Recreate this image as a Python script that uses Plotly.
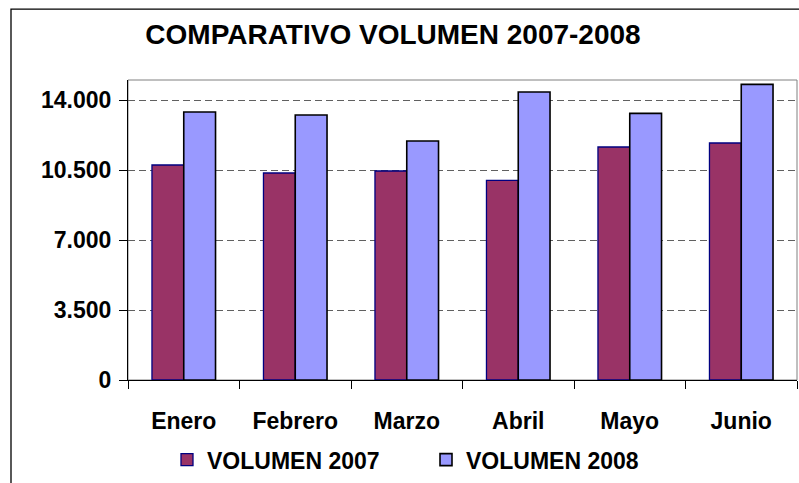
import plotly.graph_objects as go

meses = ["Enero", "Febrero", "Marzo", "Abril", "Mayo", "Junio"]
vol_2007 = [10750, 10350, 10450, 9980, 11650, 11850]
vol_2008 = [13400, 13250, 11950, 14400, 13330, 14780]
y_ticks = [0, 3500, 7000, 10500, 14000]
y_tick_labels = ["0", "3.500", "7.000", "10.500", "14.000"]

FONT = "Liberation Sans"

fig = go.Figure()
fig.add_trace(go.Bar(
    x=meses, y=vol_2007, name="VOLUMEN 2007",
    marker=dict(color="#993366", line=dict(color="#000080", width=1.3)),
))
fig.add_trace(go.Bar(
    x=meses, y=vol_2008, name="VOLUMEN 2008",
    marker=dict(color="#9999FF", line=dict(color="#000000", width=1.6)),
))

W, H = 799, 483
L, R, T, B = 128, 2, 80, 98
pw, ph = W - L - R, H - T - B

def px_to_paper_x(px):
    return (px - L) / pw

def px_to_paper_y(py):
    return (H - B - py) / ph

fig.update_layout(
    width=W, height=H,
    margin=dict(l=L, r=R, t=T, b=B, pad=0),
    paper_bgcolor="white", plot_bgcolor="white",
    barmode="group", bargap=0.43, bargroupgap=0,
    font=dict(family=FONT, color="black", size=23, weight="bold"),
    title=dict(
        text="COMPARATIVO VOLUMEN 2007-2008",
        font=dict(family=FONT, size=28, color="black", weight="bold"),
        x=393 / W, xanchor="center", xref="container",
        y=1 - 34 / H, yanchor="middle", yref="container",
    ),
    showlegend=True,
    legend=dict(
        orientation="h",
        x=px_to_paper_x(167), xanchor="left",
        y=px_to_paper_y(466), yanchor="middle",
        font=dict(family=FONT, size=23, color="black", weight="bold"),
        entrywidth=214, entrywidthmode="pixels",
        bgcolor="rgba(0,0,0,0)", borderwidth=0,
        traceorder="normal",
    ),
    xaxis=dict(
        type="category",
        showgrid=False,
        showline=True, linecolor="black", linewidth=1,
        ticks="outside", tickson="boundaries", ticklen=8, tickcolor="black", tickwidth=1,
        tickfont=dict(family=FONT, size=23, color="black", weight="bold"),
        ticklabelstandoff=20,
        fixedrange=True,
    ),
    yaxis=dict(
        range=[0, 15000],
        tickvals=y_ticks, ticktext=y_tick_labels,
        showgrid=True, gridcolor="#606060", gridwidth=1, griddash="7px,4px",
        zeroline=False,
        showline=True, linecolor="black", linewidth=1,
        ticks="outside", ticklen=8, tickcolor="black", tickwidth=1,
        tickfont=dict(family=FONT, size=23, color="black", weight="bold"),
        ticklabelstandoff=3,
        fixedrange=True,
    ),
    shapes=[
        # plot area frame (gray)
        dict(type="rect", xref="paper", yref="paper", x0=0, x1=1, y0=0, y1=1,
             line=dict(color="#808080", width=1), layer="below"),
        # outer chart border
        dict(type="rect", xref="paper", yref="paper",
             x0=px_to_paper_x(11), x1=px_to_paper_x(830),
             y0=px_to_paper_y(520), y1=px_to_paper_y(8),
             line=dict(color="black", width=1.3), layer="below"),
    ],
)

fig.write_html(
    "out.html",
    config={"displayModeBar": False},
    post_script="document.body.style.margin='0';document.body.style.padding='0';",
)
